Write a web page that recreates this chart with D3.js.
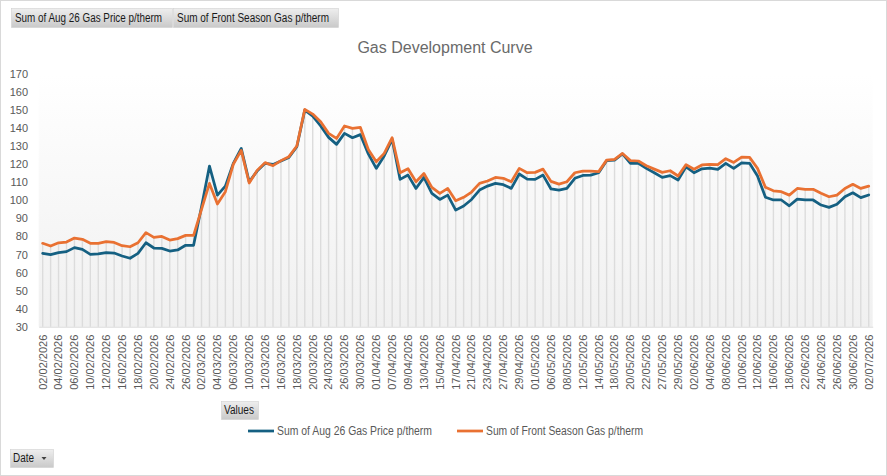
<!DOCTYPE html>
<html><head><meta charset="utf-8">
<script src="https://cdn.jsdelivr.net/npm/d3@7"></script>
<style>
html,body{margin:0;padding:0;background:#fff;}
svg{display:block;}
</style></head>
<body>
<svg id="chart" width="887" height="476"></svg>
<script>
const dates = [
"02/02/2026","03/02/2026","04/02/2026","05/02/2026","06/02/2026","09/02/2026","10/02/2026","11/02/2026","12/02/2026","13/02/2026",
"16/02/2026","17/02/2026","18/02/2026","19/02/2026","20/02/2026","23/02/2026","24/02/2026","25/02/2026","26/02/2026","27/02/2026",
"02/03/2026","03/03/2026","04/03/2026","05/03/2026","06/03/2026","09/03/2026","10/03/2026","11/03/2026","12/03/2026","13/03/2026",
"16/03/2026","17/03/2026","18/03/2026","19/03/2026","20/03/2026","23/03/2026","24/03/2026","25/03/2026","26/03/2026","27/03/2026",
"30/03/2026","31/03/2026","01/04/2026","02/04/2026","07/04/2026","08/04/2026","09/04/2026","10/04/2026","13/04/2026","14/04/2026",
"15/04/2026","16/04/2026","17/04/2026","20/04/2026","21/04/2026","22/04/2026","23/04/2026","24/04/2026","27/04/2026","28/04/2026",
"29/04/2026","30/04/2026","01/05/2026","05/05/2026","06/05/2026","07/05/2026","08/05/2026","11/05/2026","12/05/2026","13/05/2026",
"14/05/2026","15/05/2026","18/05/2026","19/05/2026","20/05/2026","21/05/2026","22/05/2026","26/05/2026","27/05/2026","28/05/2026",
"29/05/2026","01/06/2026","02/06/2026","03/06/2026","04/06/2026","05/06/2026","08/06/2026","09/06/2026","10/06/2026","11/06/2026",
"12/06/2026","15/06/2026","16/06/2026","17/06/2026","18/06/2026","19/06/2026","22/06/2026","23/06/2026","24/06/2026","25/06/2026",
"26/06/2026","29/06/2026","30/06/2026","01/07/2026","02/07/2026"];

const aug26Price = [
70.6,69.9,71.0,71.6,73.8,72.8,70.1,70.3,71.0,70.8,
69.2,67.9,70.6,76.5,73.6,73.4,71.9,72.5,75.1,75.1,
96.5,119.0,102.9,107.9,120.5,128.8,110.3,116.2,120.5,119.9,
121.8,123.8,129.7,150.0,146.7,141.2,134.9,131.0,137.1,134.7,
136.4,125.7,117.7,124.6,133.8,111.6,114.0,106.6,112.7,103.9,
100.5,102.9,94.6,96.9,100.5,105.7,107.9,109.4,108.7,106.6,
114.6,111.8,111.6,114.0,106.3,105.7,106.6,112.2,113.8,114.0,
115.3,122.0,122.3,125.7,120.5,120.5,117.7,115.3,112.7,113.7,
111.3,118.6,115.3,117.5,117.9,117.2,120.5,117.7,120.7,120.5,
113.5,101.7,100.2,100.2,97.0,100.7,100.2,100.2,97.4,96.1,
97.8,102.0,104.2,101.5,103.0];

const frontSeason = [
76.2,74.7,76.5,76.9,79.1,78.4,76.2,76.2,77.1,76.7,
74.9,74.3,76.5,82.1,79.5,80.0,78.0,78.8,80.6,80.6,
95.0,109.4,98.0,104.8,120.0,127.7,109.6,116.6,120.9,119.2,
122.0,124.2,130.1,150.4,147.8,143.6,137.1,134.3,141.2,139.9,
140.4,128.2,121.4,126.0,134.7,115.3,117.5,110.3,114.9,107.2,
103.9,106.6,99.8,101.7,104.6,109.4,110.7,112.7,112.2,110.3,
117.7,115.3,115.5,117.3,110.5,109.0,110.3,115.3,116.2,116.2,
115.9,122.3,122.7,126.0,122.0,121.8,119.2,117.3,115.5,116.4,
113.5,119.8,117.2,119.6,119.9,119.8,123.1,121.0,124.0,123.8,
117.7,107.2,105.3,104.8,102.9,106.6,106.1,106.1,103.9,102.0,
102.9,106.6,108.9,106.6,107.9];

const yTicks = [30,40,50,60,70,80,90,100,110,120,130,140,150,160,170];
const seriesNames = ["Sum of Aug 26 Gas Price p/therm","Sum of Front Season Gas p/therm"];
const seriesColors = ["#156082","#E97132"];
const titleText = "Gas Development Curve";

const svg = d3.select("#chart");
const W = 887, H = 476;
const plot = {left: 38.7, right: 872.7, top: 74, bottom: 326.7};

svg.append("rect").attr("x",0.5).attr("y",0.5).attr("width",W-1).attr("height",H-1)
  .attr("fill","#fff").attr("stroke","#d9d9d9");

const defs = svg.append("defs");
const grad = defs.append("linearGradient").attr("id","pg").attr("x1",0).attr("y1",0).attr("x2",0).attr("y2",1);
grad.append("stop").attr("offset","0%").attr("stop-color","#ffffff");
grad.append("stop").attr("offset","100%").attr("stop-color","#f0f0f0");
const bgrad = defs.append("linearGradient").attr("id","bg").attr("x1",0).attr("y1",0).attr("x2",0).attr("y2",1);
bgrad.append("stop").attr("offset","0%").attr("stop-color","#eeeeee");
bgrad.append("stop").attr("offset","100%").attr("stop-color","#c9c9c9");

const x = d3.scaleBand().domain(dates).range([plot.left, plot.right]);
const cx = d => x(d) + x.bandwidth()/2;
const y = d3.scaleLinear().domain([30,170]).range([plot.bottom, plot.top]);

svg.append("rect").attr("x",plot.left).attr("y",plot.top)
  .attr("width",plot.right-plot.left).attr("height",plot.bottom-plot.top)
  .attr("fill","url(#pg)");

svg.append("text").attr("x",445).attr("y",53).attr("text-anchor","middle")
  .attr("font-family","Liberation Sans, Arial, sans-serif").attr("font-size",16)
  .attr("fill","#6a6a6a").text(titleText);

// drop lines
svg.append("g").selectAll("line").data(dates).join("line")
  .attr("x1",(d)=>cx(d)).attr("x2",(d)=>cx(d))
  .attr("y1",(d,i)=>y(Math.max(aug26Price[i],frontSeason[i])))
  .attr("y2",y(30))
  .attr("stroke","#dcdcdc").attr("stroke-width",1.4);

// x axis
const xAxis = d3.axisBottom(x).tickSize(0).tickPadding(0)
  .tickValues(dates.filter((d,i)=>i%2===0));
const gx = svg.append("g").attr("transform",`translate(0,${plot.bottom})`).call(xAxis);
gx.select(".domain").attr("stroke","#d9d9d9");
gx.selectAll("text").attr("transform","rotate(-90)")
  .attr("text-anchor","end").attr("dx","-8").attr("dy","0.35em").attr("x",0).attr("y",0)
  .attr("font-family","Liberation Sans, Arial, sans-serif").attr("font-size",11).attr("fill","#595959");

// y axis
const yAxis = d3.axisLeft(y).tickValues(yTicks).tickSize(0).tickPadding(0);
const gy = svg.append("g").attr("transform",`translate(28,0)`).call(yAxis);
gy.select(".domain").remove();
gy.selectAll("text").attr("font-family","Liberation Sans, Arial, sans-serif")
  .attr("font-size",11).attr("fill","#595959");

// lines
const line = d3.line().x((d,i)=>cx(dates[i])).y(d=>y(d));
[aug26Price, frontSeason].forEach((s,k)=>{
  svg.append("path").datum(s).attr("d",line).attr("fill","none")
    .attr("stroke",seriesColors[k]).attr("stroke-width",2.75)
    .attr("stroke-linejoin","round").attr("stroke-linecap","round");
});

// pivot field buttons
function button(x0,y0,w,h,label,fs,tl,tx){
  svg.append("rect").attr("x",x0+0.5).attr("y",y0+0.5).attr("width",w).attr("height",h)
    .attr("fill","url(#bg)").attr("stroke","#d0d0d0").attr("stroke-width",0.6);
  const t = svg.append("text").attr("x",x0+(tx||4)).attr("y",y0+h/2+4)
    .attr("font-family","Liberation Sans Narrow, Arial Narrow, sans-serif").attr("font-size",fs)
    .attr("fill","#1a1a1a").text(label);
  if(tl) t.attr("textLength",tl).attr("lengthAdjust","spacingAndGlyphs");
}
button(11,8,161,19,seriesNames[0],12,147);
button(173,8,165,19,seriesNames[1],12,152);
button(221,401,37,18,"Values",12,30,3);
button(10,449,43,18,"Date",12,21,3);
svg.append("path").attr("d","M41.5,457 L46.5,457 L44,460 Z").attr("fill","#404040");

// legend
const lg = svg.append("g");
const legendX = [248, 457];
const legendTL = [155, 157];
seriesNames.forEach((n,k)=>{
  lg.append("line").attr("x1",legendX[k]).attr("x2",legendX[k]+26).attr("y1",431).attr("y2",431)
    .attr("stroke",seriesColors[k]).attr("stroke-width",2.75);
  lg.append("text").attr("x",legendX[k]+29).attr("y",435)
    .attr("font-family","Liberation Sans Narrow, Arial Narrow, sans-serif").attr("font-size",12)
    .attr("fill","#595959").attr("textLength",legendTL[k]).attr("lengthAdjust","spacingAndGlyphs").text(n);
});
</script>
</body></html>
